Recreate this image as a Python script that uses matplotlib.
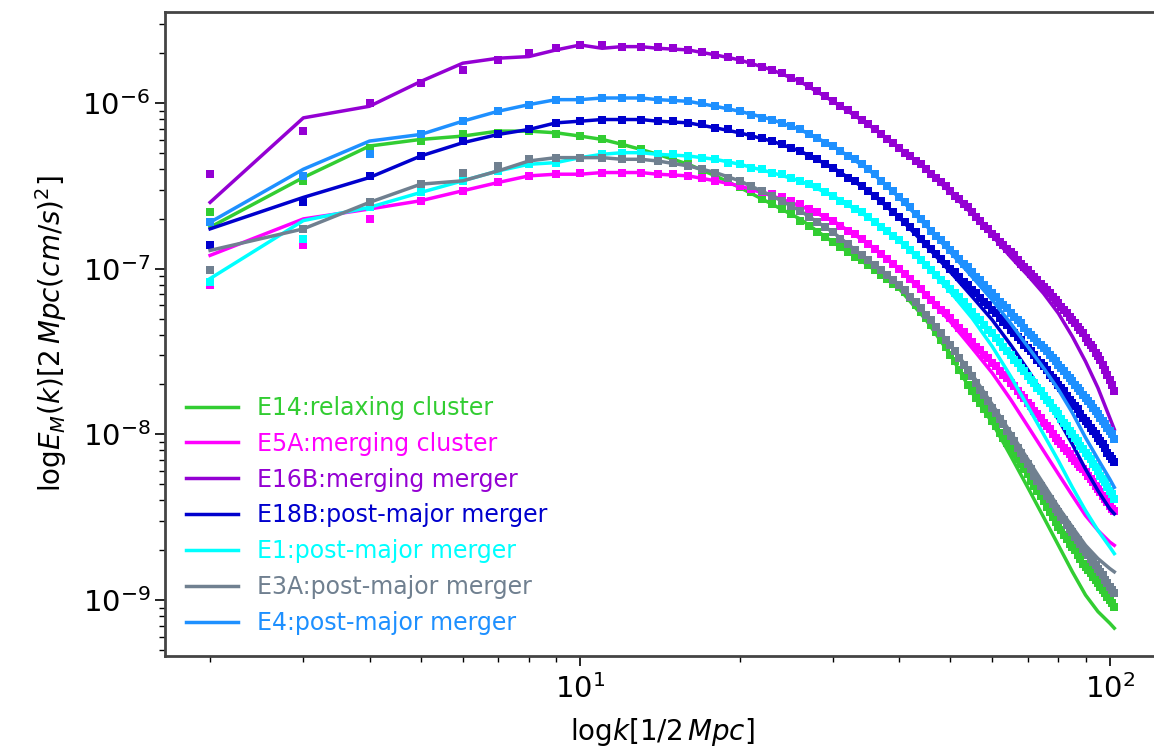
import matplotlib
matplotlib.use("Agg")
import matplotlib.pyplot as plt
import numpy as np

# wavenumbers of the square markers (one per integer k)
k_points = np.arange(2, 103)
# wavenumbers where the solid curves were read
k_line = [2, 3, 4, 5, 6, 7, 8, 9, 10, 11, 12, 13, 14, 16, 18, 20, 23, 26, 30,
          35, 40, 45, 50, 55, 60, 65, 70, 75, 80, 85, 90, 95, 100, 102]

labels = ["E14:relaxing cluster", "E5A:merging cluster", "E16B:merging merger",
          "E18B:post-major merger", "E1:post-major merger",
          "E3A:post-major merger", "E4:post-major merger"]
colors = ["limegreen", "magenta", "darkviolet", "mediumblue", "cyan",
          "slategray", "dodgerblue"]

# log10 E_M(k), square markers
e14_pts = [
    -6.66, -6.47, -6.27, -6.23, -6.19, -6.18, -6.17, -6.19, -6.20, -6.22,
    -6.25, -6.28, -6.31, -6.34, -6.37, -6.41, -6.44, -6.48, -6.51, -6.54,
    -6.58, -6.61, -6.64, -6.67, -6.71, -6.74, -6.78, -6.81, -6.84, -6.87,
    -6.90, -6.93, -6.95, -6.98, -7.01, -7.04, -7.06, -7.09, -7.11, -7.14,
    -7.18, -7.22, -7.26, -7.30, -7.34, -7.38, -7.43, -7.47, -7.52, -7.56,
    -7.61, -7.65, -7.70, -7.74, -7.78, -7.81, -7.85, -7.88, -7.92, -7.95,
    -7.99, -8.02, -8.05, -8.09, -8.12, -8.15, -8.18, -8.21, -8.24, -8.28,
    -8.31, -8.34, -8.37, -8.40, -8.44, -8.47, -8.50, -8.53, -8.56, -8.58,
    -8.61, -8.63, -8.66, -8.68, -8.70, -8.73, -8.75, -8.78, -8.80, -8.82,
    -8.84, -8.86, -8.88, -8.90, -8.92, -8.94, -8.96, -8.98, -9.00, -9.02,
    -9.04]
e5a_pts = [
    -7.10, -6.86, -6.70, -6.59, -6.53, -6.48, -6.44, -6.43, -6.42, -6.42,
    -6.42, -6.42, -6.43, -6.43, -6.44, -6.45, -6.47, -6.48, -6.50, -6.52,
    -6.54, -6.55, -6.57, -6.59, -6.61, -6.64, -6.66, -6.69, -6.71, -6.74,
    -6.77, -6.79, -6.82, -6.85, -6.88, -6.91, -6.94, -6.97, -7.00, -7.03,
    -7.06, -7.09, -7.12, -7.16, -7.19, -7.22, -7.25, -7.27, -7.30, -7.33,
    -7.36, -7.38, -7.41, -7.44, -7.47, -7.49, -7.52, -7.54, -7.57, -7.59,
    -7.62, -7.64, -7.66, -7.69, -7.71, -7.74, -7.76, -7.78, -7.81, -7.83,
    -7.86, -7.88, -7.90, -7.93, -7.95, -7.97, -8.00, -8.02, -8.04, -8.06,
    -8.08, -8.10, -8.12, -8.14, -8.16, -8.18, -8.20, -8.21, -8.23, -8.25,
    -8.27, -8.29, -8.31, -8.33, -8.35, -8.37, -8.39, -8.41, -8.43, -8.45,
    -8.46]
e16b_pts = [
    -6.43, -6.17, -6.00, -5.88, -5.80, -5.74, -5.70, -5.67, -5.65, -5.65,
    -5.66, -5.66, -5.66, -5.67, -5.68, -5.69, -5.71, -5.72, -5.74, -5.76,
    -5.78, -5.80, -5.82, -5.85, -5.87, -5.90, -5.93, -5.96, -5.99, -6.02,
    -6.04, -6.07, -6.10, -6.13, -6.16, -6.19, -6.22, -6.24, -6.27, -6.30,
    -6.32, -6.35, -6.37, -6.40, -6.43, -6.45, -6.48, -6.50, -6.53, -6.56,
    -6.58, -6.61, -6.63, -6.66, -6.69, -6.71, -6.74, -6.76, -6.79, -6.81,
    -6.84, -6.86, -6.88, -6.90, -6.92, -6.95, -6.97, -6.99, -7.01, -7.03,
    -7.05, -7.07, -7.09, -7.11, -7.13, -7.15, -7.17, -7.19, -7.21, -7.23,
    -7.25, -7.27, -7.29, -7.31, -7.33, -7.35, -7.37, -7.39, -7.42, -7.44,
    -7.46, -7.48, -7.51, -7.53, -7.55, -7.58, -7.61, -7.64, -7.67, -7.70,
    -7.74]
e18b_pts = [
    -6.86, -6.60, -6.44, -6.32, -6.23, -6.19, -6.16, -6.12, -6.11, -6.10,
    -6.10, -6.10, -6.11, -6.11, -6.12, -6.13, -6.15, -6.16, -6.18, -6.20,
    -6.21, -6.23, -6.25, -6.27, -6.29, -6.32, -6.34, -6.37, -6.39, -6.42,
    -6.45, -6.47, -6.50, -6.53, -6.56, -6.59, -6.62, -6.66, -6.69, -6.72,
    -6.75, -6.78, -6.82, -6.85, -6.88, -6.91, -6.94, -6.97, -7.00, -7.02,
    -7.05, -7.08, -7.10, -7.13, -7.15, -7.18, -7.20, -7.22, -7.25, -7.27,
    -7.30, -7.32, -7.34, -7.37, -7.39, -7.41, -7.43, -7.46, -7.48, -7.50,
    -7.52, -7.55, -7.57, -7.59, -7.61, -7.64, -7.66, -7.68, -7.70, -7.72,
    -7.74, -7.77, -7.79, -7.81, -7.83, -7.85, -7.88, -7.90, -7.92, -7.94,
    -7.96, -7.98, -8.00, -8.02, -8.04, -8.06, -8.08, -8.11, -8.13, -8.15,
    -8.17]
e1_pts = [
    -7.08, -6.82, -6.63, -6.54, -6.47, -6.41, -6.37, -6.36, -6.33, -6.31,
    -6.30, -6.30, -6.31, -6.31, -6.32, -6.33, -6.34, -6.36, -6.37, -6.39,
    -6.40, -6.42, -6.43, -6.45, -6.47, -6.49, -6.51, -6.54, -6.56, -6.59,
    -6.61, -6.64, -6.66, -6.69, -6.72, -6.75, -6.77, -6.80, -6.83, -6.86,
    -6.89, -6.92, -6.95, -6.98, -7.01, -7.04, -7.07, -7.09, -7.12, -7.15,
    -7.17, -7.20, -7.23, -7.26, -7.29, -7.31, -7.34, -7.37, -7.39, -7.42,
    -7.44, -7.47, -7.50, -7.52, -7.55, -7.57, -7.60, -7.62, -7.65, -7.67,
    -7.69, -7.72, -7.74, -7.77, -7.79, -7.81, -7.84, -7.86, -7.88, -7.91,
    -7.93, -7.95, -7.98, -8.00, -8.02, -8.04, -8.07, -8.09, -8.11, -8.13,
    -8.15, -8.18, -8.20, -8.22, -8.25, -8.27, -8.29, -8.32, -8.34, -8.36,
    -8.39]
e3a_pts = [
    -7.01, -6.76, -6.60, -6.49, -6.42, -6.38, -6.34, -6.33, -6.33, -6.33,
    -6.34, -6.34, -6.35, -6.36, -6.38, -6.40, -6.42, -6.45, -6.47, -6.50,
    -6.53, -6.56, -6.59, -6.62, -6.65, -6.69, -6.72, -6.75, -6.78, -6.82,
    -6.85, -6.89, -6.92, -6.95, -6.98, -7.01, -7.04, -7.07, -7.10, -7.13,
    -7.17, -7.20, -7.24, -7.28, -7.31, -7.35, -7.39, -7.43, -7.46, -7.50,
    -7.54, -7.58, -7.61, -7.65, -7.69, -7.73, -7.76, -7.80, -7.84, -7.87,
    -7.91, -7.94, -7.98, -8.01, -8.04, -8.08, -8.11, -8.15, -8.18, -8.21,
    -8.25, -8.28, -8.31, -8.34, -8.37, -8.39, -8.42, -8.45, -8.47, -8.50,
    -8.52, -8.55, -8.57, -8.59, -8.62, -8.64, -8.66, -8.69, -8.71, -8.73,
    -8.75, -8.77, -8.79, -8.81, -8.83, -8.85, -8.88, -8.90, -8.92, -8.94,
    -8.96]
e4_pts = [
    -6.72, -6.44, -6.31, -6.19, -6.11, -6.05, -6.01, -5.98, -5.98, -5.97,
    -5.97, -5.97, -5.98, -5.98, -5.99, -6.00, -6.02, -6.03, -6.05, -6.07,
    -6.09, -6.10, -6.12, -6.14, -6.16, -6.19, -6.21, -6.24, -6.26, -6.29,
    -6.32, -6.34, -6.37, -6.40, -6.43, -6.47, -6.50, -6.53, -6.57, -6.60,
    -6.63, -6.67, -6.70, -6.73, -6.77, -6.80, -6.83, -6.86, -6.89, -6.91,
    -6.94, -6.97, -6.99, -7.02, -7.05, -7.07, -7.10, -7.12, -7.15, -7.17,
    -7.20, -7.22, -7.24, -7.27, -7.29, -7.31, -7.33, -7.36, -7.38, -7.40,
    -7.42, -7.44, -7.46, -7.48, -7.50, -7.52, -7.54, -7.56, -7.58, -7.60,
    -7.62, -7.64, -7.66, -7.68, -7.70, -7.72, -7.74, -7.76, -7.78, -7.80,
    -7.82, -7.84, -7.86, -7.88, -7.90, -7.92, -7.94, -7.96, -7.98, -8.00,
    -8.03]

# log10 E_M(k), solid curves at k_line
e14_line = [-6.75, -6.45, -6.26, -6.22, -6.20, -6.17, -6.17, -6.18, -6.20, -6.22,
            -6.25, -6.28, -6.31, -6.37, -6.44, -6.51, -6.61, -6.70, -6.84,
            -6.98, -7.12, -7.31, -7.52, -7.75, -7.93, -8.13, -8.32, -8.50,
            -8.67, -8.83, -8.97, -9.07, -9.14, -9.17]
e5a_line = [-6.92, -6.70, -6.64, -6.59, -6.53, -6.48, -6.44, -6.43, -6.43, -6.42,
            -6.42, -6.42, -6.43, -6.44, -6.47, -6.50, -6.56, -6.62, -6.71,
            -6.85, -7.00, -7.16, -7.32, -7.48, -7.63, -7.79, -7.95, -8.10,
            -8.24, -8.37, -8.49, -8.58, -8.65, -8.67]
e16b_line = [-6.60, -6.09, -6.02, -5.87, -5.76, -5.73, -5.72, -5.68, -5.65, -5.67,
             -5.66, -5.66, -5.67, -5.68, -5.71, -5.74, -5.80, -5.87, -5.99,
             -6.13, -6.27, -6.40, -6.54, -6.67, -6.80, -6.93, -7.04, -7.15,
             -7.27, -7.41, -7.56, -7.72, -7.90, -7.97]
e18b_line = [-6.76, -6.57, -6.45, -6.32, -6.24, -6.19, -6.16, -6.12, -6.11, -6.10,
             -6.10, -6.10, -6.11, -6.12, -6.15, -6.18, -6.23, -6.29, -6.39,
             -6.53, -6.69, -6.86, -7.02, -7.17, -7.31, -7.46, -7.61, -7.76,
             -7.91, -8.06, -8.21, -8.34, -8.45, -8.48]
e1_line = [-7.06, -6.71, -6.63, -6.54, -6.47, -6.41, -6.37, -6.36, -6.33, -6.31,
           -6.30, -6.30, -6.31, -6.32, -6.34, -6.37, -6.42, -6.47, -6.56,
           -6.69, -6.83, -6.98, -7.14, -7.30, -7.47, -7.65, -7.83, -8.00,
           -8.16, -8.32, -8.46, -8.58, -8.68, -8.72]
e3a_line = [-6.89, -6.76, -6.60, -6.49, -6.47, -6.41, -6.35, -6.33, -6.33, -6.33,
            -6.34, -6.34, -6.35, -6.38, -6.42, -6.47, -6.56, -6.65, -6.78,
            -6.95, -7.10, -7.28, -7.46, -7.64, -7.82, -7.99, -8.15, -8.30,
            -8.44, -8.56, -8.67, -8.75, -8.81, -8.83]
e4_line = [-6.72, -6.40, -6.23, -6.19, -6.11, -6.05, -6.01, -5.98, -5.98, -5.97,
           -5.97, -5.97, -5.98, -5.99, -6.02, -6.05, -6.10, -6.16, -6.26,
           -6.40, -6.57, -6.74, -6.90, -7.05, -7.19, -7.33, -7.47, -7.60,
           -7.73, -7.87, -8.02, -8.15, -8.27, -8.32]

points = [e14_pts, e5a_pts, e16b_pts, e18b_pts, e1_pts, e3a_pts, e4_pts]
lines = [e14_line, e5a_line, e16b_line, e18b_line, e1_line, e3a_line, e4_line]

fig = plt.figure(figsize=(11.54, 7.5), dpi=100)
# the original picture is cropped at its right spine
ax = fig.add_axes([0.143, 0.1253, 0.862, 0.8587])

for label, color, pts, line in zip(labels, colors, points, lines):
    ax.plot(k_line, 10.0 ** np.array(line), color=color, lw=2.5, label=label)
    ax.plot(k_points, 10.0 ** np.array(pts), "s", color=color, ms=5.5, mew=0)

ax.set_xscale("log")
ax.set_yscale("log")
ax.set_xlim(1.644, 124.3)
ax.set_ylim(4.59e-10, 3.54e-6)

ax.set_xlabel(r"$\mathrm{log}k[1/2\,Mpc]$", fontsize=20, labelpad=9)
ax.set_ylabel(r"$\mathrm{log}E_M(k)[2\,Mpc(cm/s)^2]$", fontsize=20, labelpad=10)
ax.tick_params(which="major", labelsize=21, length=7, width=1.2)
ax.tick_params(axis="x", which="major", pad=6)
ax.tick_params(which="minor", length=4, width=1.0)
for spine in ax.spines.values():
    spine.set_linewidth(2)
    spine.set_color("#444444")
ax.spines["right"].set_visible(False)

ax.legend(loc="lower left", frameon=False, fontsize=17, handlelength=2.2,
          labelspacing=0.5, labelcolor="linecolor")

fig.savefig("out.png", dpi=100)
